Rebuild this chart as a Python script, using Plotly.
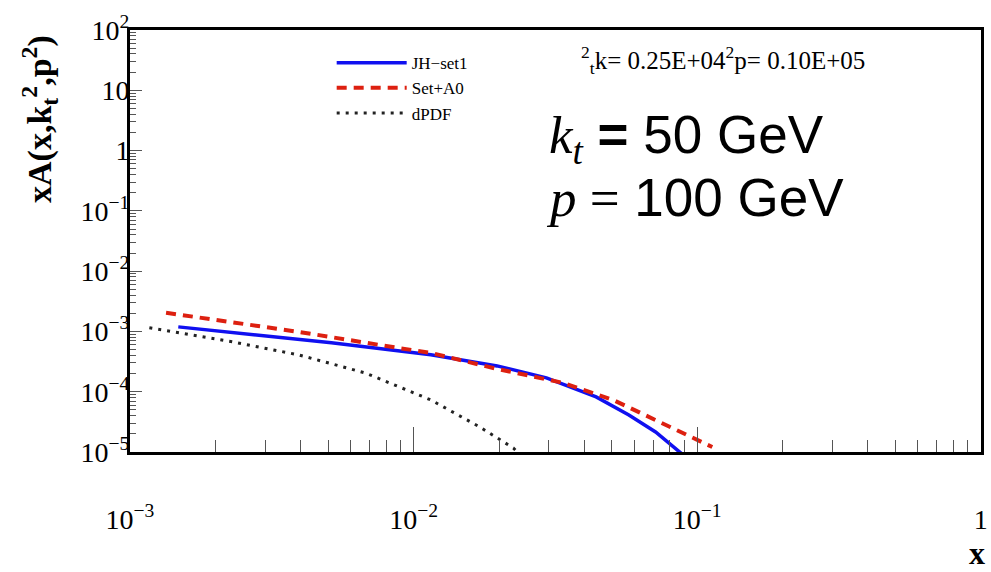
import plotly.graph_objects as go

# ---- data ----
jh_x = [1.48e-3, 2.63e-3, 5.13e-3, 1.15e-2, 1.97e-2, 2.94e-2, 4.40e-2, 5.74e-2, 7.13e-2, 8.93e-2]
jh_y = [1.19e-3, 8.97e-4, 6.47e-4, 4.09e-4, 2.68e-4, 1.70e-4, 8.20e-5, 4.12e-5, 2.15e-5, 8.9e-6]

a0_x = [1.34e-3, 2.29e-3, 3.93e-3, 8.79e-3, 1.15e-2, 1.97e-2, 3.37e-2, 5.05e-2, 7.55e-2, 1.13e-1]
a0_y = [2.04e-3, 1.41e-3, 9.84e-4, 5.34e-4, 4.41e-4, 2.39e-4, 1.40e-4, 7.31e-5, 3.03e-5, 1.21e-5]

dp_x = [1.17e-3, 2.29e-3, 3.93e-3, 6.75e-3, 1.15e-2, 1.71e-2, 2.25e-2, 2.32e-2]
dp_y = [1.15e-3, 6.72e-4, 4.09e-4, 2.05e-4, 7.31e-5, 2.60e-5, 1.16e-5, 1.0e-5]

series_names = ["JH\u2212set1", "Set+A0", "dPDF"]

x_tick_vals = [1e-3, 1e-2, 1e-1, 1]
x_tick_text = ["10<sup>\u22123</sup>", "10<sup>\u22122</sup>", "10<sup>\u22121</sup>", "1"]
y_tick_vals = [1e-5, 1e-4, 1e-3, 1e-2, 1e-1, 1, 10, 100]
y_tick_text = ["10<sup>\u22125</sup>", "10<sup>\u22124</sup>", "10<sup>\u22123</sup>",
               "10<sup>\u22122</sup>", "10<sup>\u22121</sup>", "1", "10", "10<sup>2</sup>"]

x_minor = [m * 10.0 ** e for e in (-3, -2, -1) for m in range(2, 10)]
y_minor = [m * 10.0 ** e for e in range(-5, 2) for m in range(2, 10)]

SERIF = "Liberation Serif, Times New Roman, serif"
SANS = "Liberation Sans, Arial, sans-serif"

fig = go.Figure()
fig.add_trace(go.Scatter(x=jh_x, y=jh_y, mode="lines", name=series_names[0],
                         line=dict(color="#1010f0", width=3.5)))
fig.add_trace(go.Scatter(x=a0_x, y=a0_y, mode="lines", name=series_names[1],
                         line=dict(color="#dd2010", width=4, dash="10px,7px")))
fig.add_trace(go.Scatter(x=dp_x, y=dp_y, mode="lines", name=series_names[2],
                         line=dict(color="#222222", width=3, dash="3px,6px")))

fig.update_layout(
    width=991, height=572,
    margin=dict(l=130, r=3, t=30, b=120),
    paper_bgcolor="white", plot_bgcolor="white",
    font=dict(family=SERIF, color="black"),
    showlegend=True,
    legend=dict(x=0.237, y=0.964, xanchor="left", yanchor="top",
                bgcolor="rgba(0,0,0,0)", font=dict(family=SERIF, size=17),
                tracegroupgap=0, itemwidth=70),
)

fig.update_xaxes(
    type="log", range=[-3, 0.0005],
    tickmode="array", tickvals=x_tick_vals, ticktext=x_tick_text,
    tickfont=dict(family=SERIF, size=28),
    ticks="inside", ticklen=25, tickcolor="#555", tickwidth=1,
    minor=dict(tickvals=x_minor, ticks="inside", ticklen=12, tickcolor="#555", tickwidth=1, showgrid=False),
    showgrid=False, zeroline=False,
    showline=True, linecolor="black", linewidth=3, mirror=True,
    ticklabelstandoff=40, ticklabeloverflow="allow",
)
fig.update_yaxes(
    type="log", range=[-5, 2],
    tickmode="array", tickvals=y_tick_vals, ticktext=y_tick_text,
    tickfont=dict(family=SERIF, size=28),
    ticks="inside", ticklen=12, tickcolor="#555", tickwidth=1,
    minor=dict(tickvals=y_minor, ticks="inside", ticklen=6, tickcolor="#555", tickwidth=1, showgrid=False),
    showgrid=False, zeroline=False,
    showline=True, linecolor="black", linewidth=3, mirror=True,
    ticklabelstandoff=-8, ticklabeloverflow="allow",
)

annotations = [
    dict(text="<b>xA(x,k<sub>t</sub><sup>2</sup>,p<sup>2</sup>)</b>", x=-0.107, y=0.789,
         xref="paper", yref="paper", textangle=-90, showarrow=False,
         font=dict(family=SERIF, size=34), xanchor="center", yanchor="middle"),
    dict(text="<b>x</b>", x=0.995, y=-0.239, xref="paper", yref="paper", showarrow=False,
         font=dict(family=SERIF, size=32), xanchor="center", yanchor="middle"),
    dict(text='<span style="font-family:Liberation Serif"><i>k</i><sub><i>t</i></sub></span> <b>=</b> 50 GeV',
         x=0.49, y=0.744, xref="paper", yref="paper", showarrow=False,
         font=dict(family=SANS, size=53), xanchor="left", yanchor="middle"),
    dict(text='<span style="font-family:Liberation Serif"><i>p</i> =</span> 100 GeV',
         x=0.486, y=0.602, xref="paper", yref="paper", showarrow=False,
         font=dict(family=SANS, size=53), xanchor="left", yanchor="middle"),
    dict(text="<sup>2</sup><sub>t</sub>k= 0.25E+04<sup>2</sup>p= 0.10E+05",
         x=0.528, y=0.929, xref="paper", yref="paper", showarrow=False,
         font=dict(family=SERIF, size=25), xanchor="left", yanchor="middle"),
]
fig.update_layout(annotations=annotations)

fig.write_html("out.html")
